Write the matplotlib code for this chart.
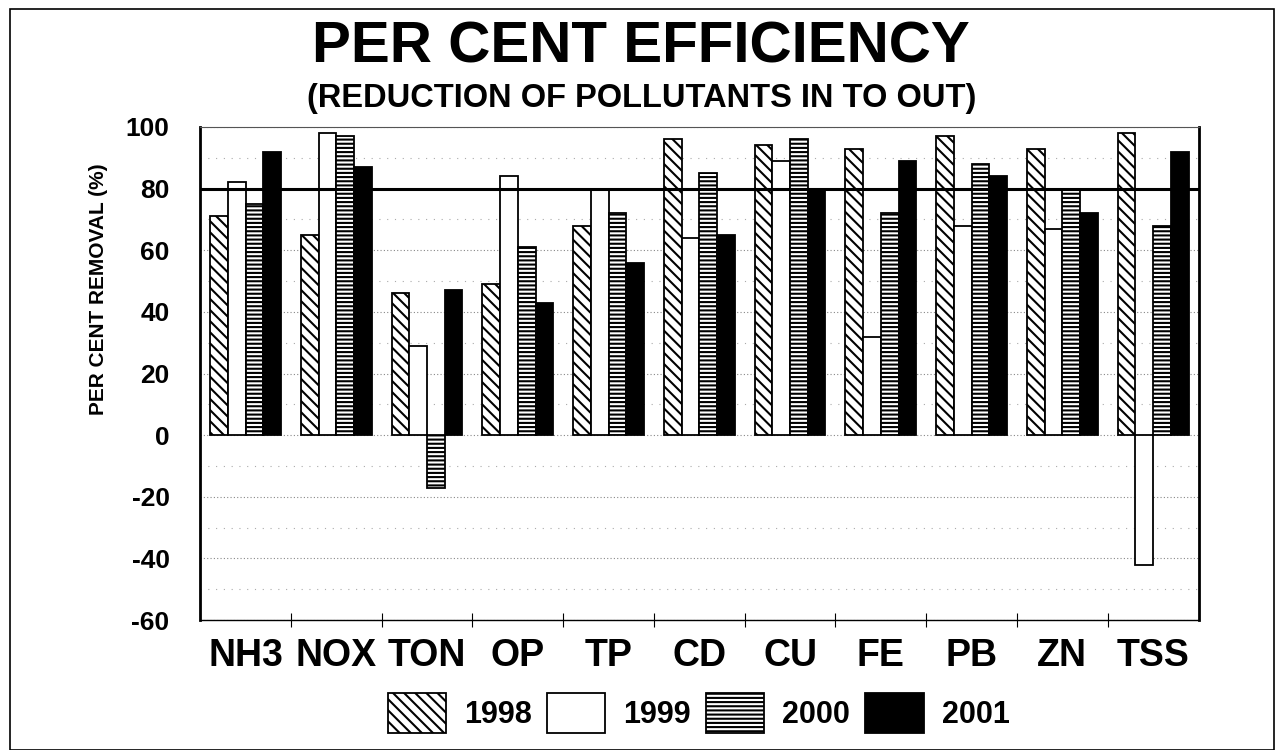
import numpy as np
import matplotlib
matplotlib.use("Agg")
import matplotlib.pyplot as plt
from matplotlib.patches import Patch, Rectangle

plt.rcParams['font.family'] = ['Liberation Sans', 'DejaVu Sans']
plt.rcParams['font.weight'] = 'bold'
plt.rcParams['hatch.linewidth'] = 1.5
plt.rcParams['axes.unicode_minus'] = False

#%% data
categories = ['NH3', 'NOX', 'TON', 'OP', 'TP', 'CD', 'CU', 'FE', 'PB', 'ZN', 'TSS']
years = ['1998', '1999', '2000', '2001']
eff_1998 = [71, 65, 46, 49, 68, 96, 94, 93, 97, 93, 98]
eff_1999 = [82, 98, 29, 84, 80, 64, 89, 32, 68, 67, -42]
eff_2000 = [75, 97, -17, 61, 72, 85, 96, 72, 88, 80, 68]
eff_2001 = [92, 87, 47, 43, 56, 65, 80, 89, 84, 72, 92]
target = 80

series = [eff_1998, eff_1999, eff_2000, eff_2001]
styles = [dict(facecolor='white', hatch='\\\\\\'),
          dict(facecolor='white', hatch=''),
          dict(facecolor='white', hatch='----'),
          dict(facecolor='black', hatch='')]

#%% plot
fig = plt.figure(figsize=(12.75, 7.5), dpi=100)
ax = fig.add_axes([0.157, 0.1733, 0.783, 0.6574])

x = np.arange(len(categories))
w = 0.195
for k, (vals, st) in enumerate(zip(series, styles)):
    ax.bar(x + (k - 1.5) * w, vals, w, edgecolor='black', linewidth=1.3,
           zorder=3, **st)

ax.axhline(target, color='black', linewidth=2.2, zorder=4)

ax.set_xlim(-0.5, len(categories) - 0.5)
ax.set_ylim(-60, 100)
ax.set_yticks(np.arange(-60, 101, 20))
ax.set_yticks(np.arange(-50, 100, 20), minor=True)
ax.grid(axis='y', which='major', linestyle=(0, (1, 2)), color='#888888', linewidth=0.8, zorder=0)
ax.grid(axis='y', which='minor', linestyle=(0, (1, 6)), color='#aaaaaa', linewidth=0.8, zorder=0)

ax.set_xticks(x)
ax.set_xticklabels(categories, fontsize=27, fontweight='bold')
ax.set_xticks(np.arange(0.5, len(categories) - 1, 1), minor=True)
ax.tick_params(axis='x', which='major', length=0, pad=13)
ax.tick_params(axis='x', which='minor', length=10, direction='inout', width=0.8)
ax.tick_params(axis='y', which='both', length=0, labelsize=19, pad=22)
for lab in ax.get_yticklabels():
    lab.set_fontweight('bold')

ax.spines['left'].set_linewidth(2)
ax.spines['right'].set_linewidth(2)
ax.spines['bottom'].set_linewidth(1)
ax.spines['top'].set_linewidth(0.8)
ax.spines['top'].set_color('#555555')

ax.set_ylabel('PER CENT REMOVAL (%)', fontsize=15, fontweight='bold')
ax.yaxis.set_label_coords(-0.092, 0.672)

fig.text(0.503, 0.937, 'PER CENT EFFICIENCY', ha='center', va='center',
         fontsize=42, fontweight='bold')
fig.text(0.503, 0.869, '(REDUCTION OF POLLUTANTS IN TO OUT)', ha='center', va='center',
         fontsize=23.5, fontweight='bold')

handles = [Patch(edgecolor='black', linewidth=1.3, **st) for st in styles]
fig.legend(handles, years, loc='center', bbox_to_anchor=(0.548, 0.049), ncol=4,
           frameon=False, handlelength=1.9, handleheight=1.65,
           handletextpad=0.59, columnspacing=0.5,
           prop={'weight': 'bold', 'size': 22})

# page border
fig.patches.append(Rectangle((0.008, 0.0), 0.991, 0.988, transform=fig.transFigure,
                             fill=False, edgecolor='black', linewidth=1.2))

fig.savefig('out.png', dpi=100)
